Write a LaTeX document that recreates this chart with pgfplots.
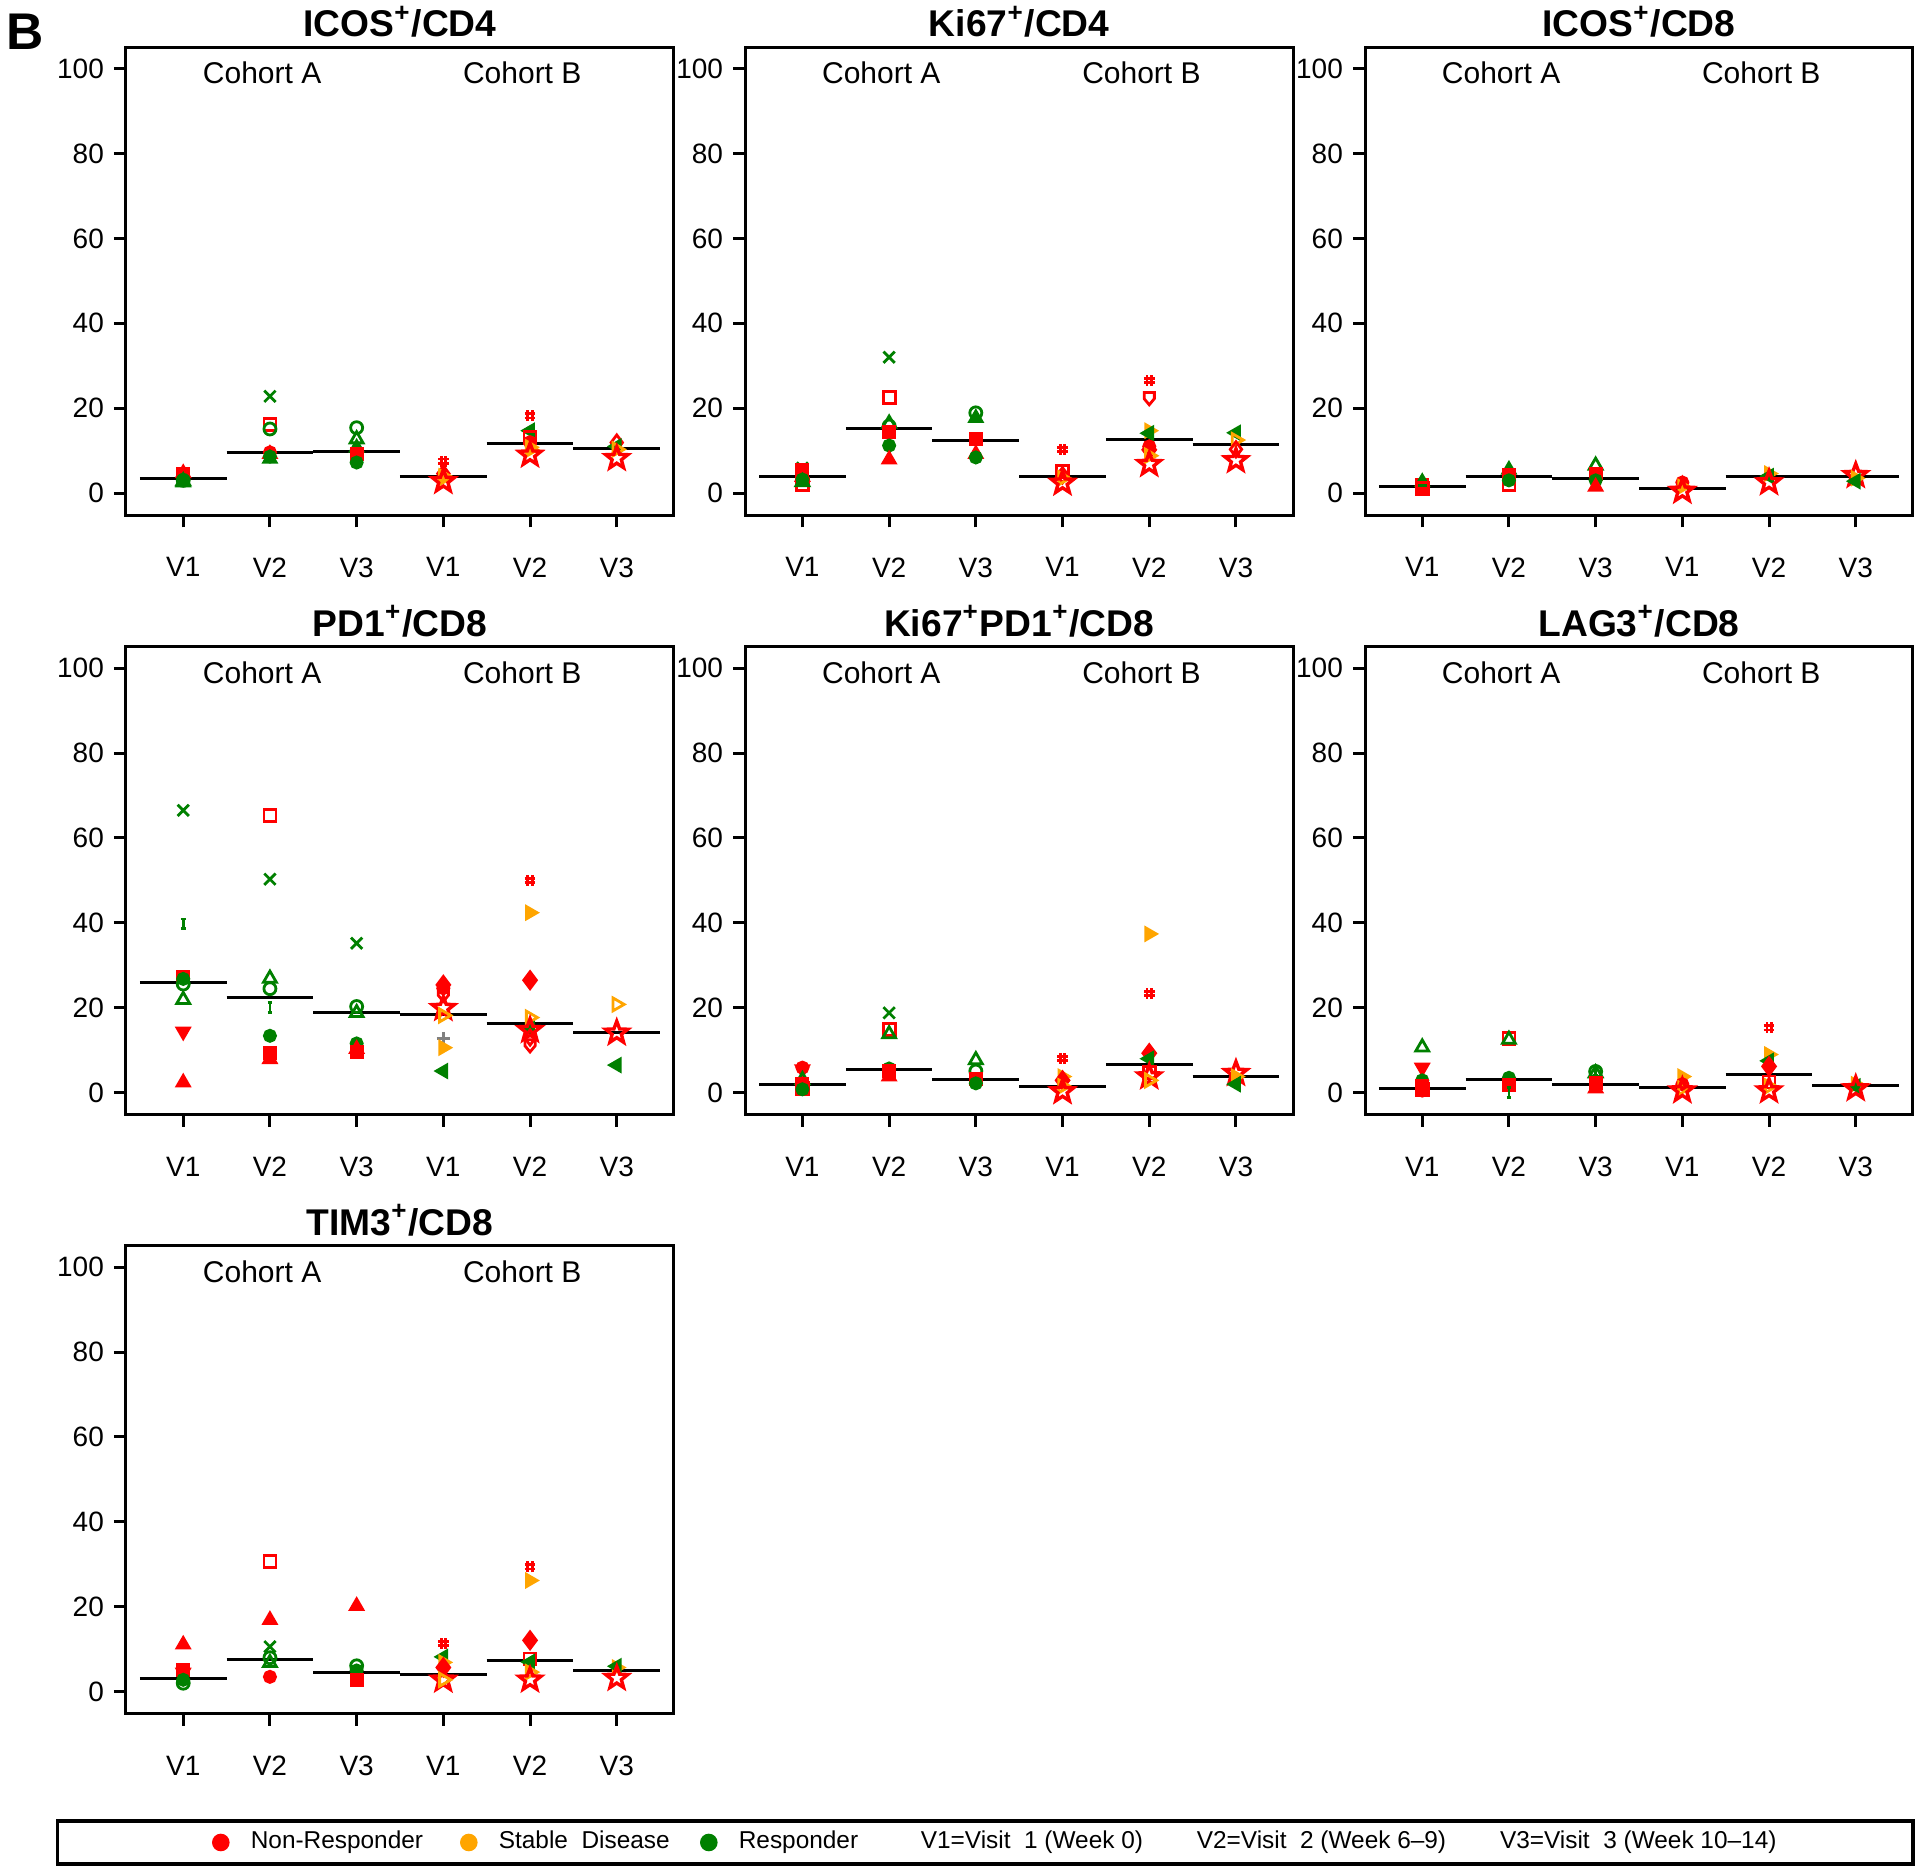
\documentclass[border=0pt]{standalone}
\usepackage{fontspec}
\setmainfont{Liberation Sans}
\usepackage{pgfplots}
\pgfplotsset{compat=1.18}
\usetikzlibrary{plotmarks}

\definecolor{nr}{RGB}{255,0,0}
\definecolor{sd}{RGB}{255,165,0}
\definecolor{rs}{RGB}{0,128,0}

% extra marker shapes used by the patient symbols
\pgfdeclareplotmark{rtri*}{%
  \pgfpathmoveto{\pgfqpoint{\pgfplotmarksize}{0pt}}%
  \pgfpathlineto{\pgfqpoint{-0.5\pgfplotmarksize}{0.866\pgfplotmarksize}}%
  \pgfpathlineto{\pgfqpoint{-0.5\pgfplotmarksize}{-0.866\pgfplotmarksize}}%
  \pgfpathclose\pgfusepathqfillstroke}
\pgfdeclareplotmark{rtri}{%
  \pgfpathmoveto{\pgfqpoint{\pgfplotmarksize}{0pt}}%
  \pgfpathlineto{\pgfqpoint{-0.5\pgfplotmarksize}{0.866\pgfplotmarksize}}%
  \pgfpathlineto{\pgfqpoint{-0.5\pgfplotmarksize}{-0.866\pgfplotmarksize}}%
  \pgfpathclose\pgfusepathqstroke}
\pgfdeclareplotmark{ltri*}{%
  \pgfpathmoveto{\pgfqpoint{-\pgfplotmarksize}{0pt}}%
  \pgfpathlineto{\pgfqpoint{0.5\pgfplotmarksize}{0.866\pgfplotmarksize}}%
  \pgfpathlineto{\pgfqpoint{0.5\pgfplotmarksize}{-0.866\pgfplotmarksize}}%
  \pgfpathclose\pgfusepathqfillstroke}
\pgfdeclareplotmark{dtri*}{%
  \pgfpathmoveto{\pgfqpoint{0pt}{-\pgfplotmarksize}}%
  \pgfpathlineto{\pgfqpoint{0.866\pgfplotmarksize}{0.5\pgfplotmarksize}}%
  \pgfpathlineto{\pgfqpoint{-0.866\pgfplotmarksize}{0.5\pgfplotmarksize}}%
  \pgfpathclose\pgfusepathqfillstroke}
\pgfdeclareplotmark{shield}{%
  \pgfpathmoveto{\pgfqpoint{-0.75\pgfplotmarksize}{0.8\pgfplotmarksize}}%
  \pgfpathlineto{\pgfqpoint{0.75\pgfplotmarksize}{0.8\pgfplotmarksize}}%
  \pgfpathlineto{\pgfqpoint{0.75\pgfplotmarksize}{-0.1\pgfplotmarksize}}%
  \pgfpathlineto{\pgfqpoint{0pt}{-\pgfplotmarksize}}%
  \pgfpathlineto{\pgfqpoint{-0.75\pgfplotmarksize}{-0.1\pgfplotmarksize}}%
  \pgfpathclose\pgfusepathqstroke}
\pgfdeclareplotmark{hash}{%
  \pgfpathmoveto{\pgfqpoint{-0.4\pgfplotmarksize}{-\pgfplotmarksize}}%
  \pgfpathlineto{\pgfqpoint{-0.4\pgfplotmarksize}{\pgfplotmarksize}}%
  \pgfpathmoveto{\pgfqpoint{0.4\pgfplotmarksize}{-\pgfplotmarksize}}%
  \pgfpathlineto{\pgfqpoint{0.4\pgfplotmarksize}{\pgfplotmarksize}}%
  \pgfpathmoveto{\pgfqpoint{-\pgfplotmarksize}{0.4\pgfplotmarksize}}%
  \pgfpathlineto{\pgfqpoint{\pgfplotmarksize}{0.4\pgfplotmarksize}}%
  \pgfpathmoveto{\pgfqpoint{-\pgfplotmarksize}{-0.4\pgfplotmarksize}}%
  \pgfpathlineto{\pgfqpoint{\pgfplotmarksize}{-0.4\pgfplotmarksize}}%
  \pgfusepathqstroke}
\pgfdeclareplotmark{ibeam}{%
  \pgfpathmoveto{\pgfqpoint{0pt}{-\pgfplotmarksize}}%
  \pgfpathlineto{\pgfqpoint{0pt}{\pgfplotmarksize}}%
  \pgfpathmoveto{\pgfqpoint{-0.5\pgfplotmarksize}{\pgfplotmarksize}}%
  \pgfpathlineto{\pgfqpoint{0.5\pgfplotmarksize}{\pgfplotmarksize}}%
  \pgfpathmoveto{\pgfqpoint{-0.5\pgfplotmarksize}{-\pgfplotmarksize}}%
  \pgfpathlineto{\pgfqpoint{0.5\pgfplotmarksize}{-\pgfplotmarksize}}%
  \pgfusepathqstroke}
\pgfdeclareplotmark{ostar}{%
  \pgfpathmoveto{\pgfpointpolar{90}{\pgfplotmarksize}}%
  \pgfpathlineto{\pgfpointpolar{126}{0.42\pgfplotmarksize}}%
  \pgfpathlineto{\pgfpointpolar{162}{\pgfplotmarksize}}%
  \pgfpathlineto{\pgfpointpolar{198}{0.42\pgfplotmarksize}}%
  \pgfpathlineto{\pgfpointpolar{234}{\pgfplotmarksize}}%
  \pgfpathlineto{\pgfpointpolar{270}{0.42\pgfplotmarksize}}%
  \pgfpathlineto{\pgfpointpolar{306}{\pgfplotmarksize}}%
  \pgfpathlineto{\pgfpointpolar{342}{0.42\pgfplotmarksize}}%
  \pgfpathlineto{\pgfpointpolar{18}{\pgfplotmarksize}}%
  \pgfpathlineto{\pgfpointpolar{54}{0.42\pgfplotmarksize}}%
  \pgfpathclose\pgfusepathqstroke}

\pgfplotsset{
  panel/.style={
    scale only axis, width=137pt, height=117pt, anchor=south west,
    xmin=0.34, xmax=6.66, ymin=-5.25, ymax=105,
    xtick={1,2,3,4,5,6}, xticklabels={V1,V2,V3,V1,V2,V3},
    ytick={0,20,40,60,80,100},
    tick align=outside, xtick pos=bottom, ytick pos=left,
    major tick length=3pt,
    tick style={black, line width=0.75pt},
    axis line style={line width=0.75pt},
    ticklabel style={font=\fontsize{7}{8}\selectfont},
    xticklabel style={yshift=-4pt},
    yticklabel style={xshift=1pt},
    /pgf/number format/assume math mode=true,
    every axis title shift=0pt,
    title style={font=\bfseries\fontsize{9.3}{11}\selectfont, at={(0.5,1)}, anchor=base,
      inner sep=0pt, yshift=2.7pt},
    clip=false,
    after end axis/.code={
      \node[font=\fontsize{7.5}{9}\selectfont] at (axis cs:1.91,98.9) {Cohort A};
      \node[font=\fontsize{7.5}{9}\selectfont] at (axis cs:4.91,98.9) {Cohort B};
    },
  },
  med/.style={black, line width=0.75pt, mark=none, unbounded coords=jump, forget plot},
  pts/.style={scatter, only marks, scatter src=explicit symbolic, forget plot,
    line width=0.7pt, mark size=1.5pt,
    scatter/classes={
      rT={mark=triangle*, nr, mark size=1.75pt},
      rS={mark=square*, nr, mark size=1.4pt},
      rSo={mark=square, nr, mark size=1.5pt},
      rC={mark=*, nr, mark size=1.4pt},
      rV={mark=dtri*, nr, mark size=1.75pt},
      rD={mark=diamond*, nr, mark size=2.1pt},
      rDo={mark=diamond, nr, mark size=1.9pt},
      rH={mark=hash, nr, mark size=1.35pt},
      rP={mark=shield, nr, mark size=1.7pt},
      rX={mark=ostar, nr, mark size=2.9pt, line width=0.85pt},
      oR={mark=rtri*, sd, mark size=1.75pt},
      oRo={mark=rtri, sd, mark size=1.85pt},
      gX={mark=x, rs, mark size=2.0pt},
      gCo={mark=o, rs, mark size=1.5pt},
      gTo={mark=triangle, rs, mark size=1.85pt},
      gC={mark=*, rs, mark size=1.4pt},
      gT={mark=triangle*, rs, mark size=1.75pt},
      gI={mark=ibeam, rs, mark size=1.2pt},
      gL={mark=ltri*, rs, mark size=1.75pt},
      gy={mark=+, gray, mark size=1.7pt}}},
}

\begin{document}
\begin{tikzpicture}
\useasboundingbox (0,0) rectangle (480pt,467.75pt);
\node[font=\bfseries\fontsize{12.9}{15}\selectfont, inner sep=0pt] at (6.3pt,459.9pt) {B};

% ---- ICOS+/CD4
\begin{axis}[panel, at={(31.5pt,338.9pt)}, title={ICOS\textsuperscript{+}/CD4}]
\addplot[pts] table[meta=c] {
x y c
1 4.4 rS
1 4.7 rT
1 3.2 rC
1 2.5 gT
1 3.0 gCo
1 2.8 gTo
2 22.8 gX
2 16.2 rSo
2 15.1 gCo
2 9.6 rC
2 9.2 rT
2 8.6 gC
2 8.1 gT
3 15.4 gCo
3 12.7 gTo
3 10.7 gT
3 9.2 rS
3 7.2 gC
4 7.5 rH
4 4.6 rDo
4 4.0 oR
4 3.5 oRo
4 2.8 rX
5 18.2 rH
5 14.7 gL
5 13.1 rSo
5 12.0 rC
5 10.8 oR
5 10.2 oRo
5 9.0 rX
6 11.9 rDo
6 11.0 gL
6 10.3 oRo
6 8.2 rX
};
\addplot[med] coordinates {(0.5,3.5) (1.5,3.5) (1.5,nan) (1.5,9.6) (2.5,9.6) (2.5,nan) (2.5,9.8) (3.5,9.8) (3.5,nan) (3.5,3.9) (4.5,3.9) (4.5,nan) (4.5,11.6) (5.5,11.6) (5.5,nan) (5.5,10.6) (6.5,10.6)};
\end{axis}

% ---- Ki67+/CD4
\begin{axis}[panel, at={(186.3pt,338.9pt)}, title={Ki67\textsuperscript{+}/CD4}]
\addplot[pts] table[meta=c] {
x y c
1 5.9 gX
1 5.5 rS
1 3.8 rT
1 2.0 rSo
1 2.6 gTo
1 3.2 gC
2 32.0 gX
2 22.5 rSo
2 16.4 gTo
2 15.8 gCo
2 14.5 rS
2 11.2 gC
2 9.2 gI
2 7.9 rT
3 18.9 gCo
3 17.7 gT
3 12.7 rS
3 9.2 rT
3 8.4 gC
4 10.3 rH
4 5.1 rSo
4 4.2 rDo
4 3.5 oRo
4 2.4 rX
5 26.5 rH
5 22.4 rP
5 14.7 oR
5 14.1 gL
5 11.0 rC
5 10.2 rD
5 8.8 oRo
5 6.8 rX
6 14.2 gL
6 12.5 oRo
6 10.3 rDo
6 7.7 rX
};
\addplot[med] coordinates {(0.5,3.8) (1.5,3.8) (1.5,nan) (1.5,15.1) (2.5,15.1) (2.5,nan) (2.5,12.5) (3.5,12.5) (3.5,nan) (3.5,4.0) (4.5,4.0) (4.5,nan) (4.5,12.6) (5.5,12.6) (5.5,nan) (5.5,11.4) (6.5,11.4)};
\end{axis}

% ---- ICOS+/CD8
\begin{axis}[panel, at={(341.25pt,338.9pt)}, title={ICOS\textsuperscript{+}/CD8}]
\addplot[pts] table[meta=c] {
x y c
1 2.0 rS
1 1.2 rC
1 2.6 gT
1 1.0 rSo
2 5.5 gT
2 4.2 rS
2 2.0 rSo
2 3.0 gC
3 6.5 gTo
3 4.6 rS
3 3.0 gC
3 1.5 rT
4 2.5 rC
4 1.5 oR
4 0.5 rX
5 4.6 oR
5 4.0 gL
5 2.5 rX
6 4.2 rX
6 3.5 oR
6 2.8 gL
};
\addplot[med] coordinates {(0.5,1.5) (1.5,1.5) (1.5,nan) (1.5,3.8) (2.5,3.8) (2.5,nan) (2.5,3.5) (3.5,3.5) (3.5,nan) (3.5,1.1) (4.5,1.1) (4.5,nan) (4.5,3.9) (5.5,3.9) (5.5,nan) (5.5,3.9) (6.5,3.9)};
\end{axis}

% ---- PD1+/CD8
\begin{axis}[panel, at={(31.5pt,189pt)}, title={PD1\textsuperscript{+}/CD8}]
\addplot[pts] table[meta=c] {
x y c
1 66.5 gX
1 39.8 gI
1 27.3 rS
1 26.8 gC
1 25.6 gCo
1 21.9 gTo
1 14.4 rV
1 2.4 rT
2 65.3 rSo
2 50.3 gX
2 26.9 gTo
2 24.5 gCo
2 20.1 gI
2 13.4 gC
2 9.3 rS
2 7.9 rT
3 35.2 gX
3 20.3 gCo
3 18.8 gTo
3 11.6 gC
3 10.3 rT
3 9.7 rS
4 25.4 rD
4 24.6 rC
4 23.1 rP
4 19.9 rX
4 18.2 oRo
4 12.7 gy
4 10.6 oR
4 5.1 gL
5 50.0 rH
5 42.4 oR
5 26.5 rD
5 17.7 oRo
5 15.0 gL
5 14.7 rX
5 13.0 rDo
5 11.2 rP
6 20.8 oRo
6 14.1 rX
6 6.5 gL
};
\addplot[med] coordinates {(0.5,25.9) (1.5,25.9) (1.5,nan) (1.5,22.4) (2.5,22.4) (2.5,nan) (2.5,18.9) (3.5,18.9) (3.5,nan) (3.5,18.4) (4.5,18.4) (4.5,nan) (4.5,16.4) (5.5,16.4) (5.5,nan) (5.5,14.1) (6.5,14.1)};
\end{axis}

% ---- Ki67+PD1+/CD8
\begin{axis}[panel, at={(186.3pt,189pt)}, title={Ki67\textsuperscript{+}PD1\textsuperscript{+}/CD8}]
\addplot[pts] table[meta=c] {
x y c
1 5.9 rC
1 5.5 rV
1 3.0 gTo
1 2.0 rS
1 1.0 rSo
1 0.8 gC
2 18.8 gX
2 14.9 rSo
2 13.8 gTo
2 5.7 gC
2 5.0 rS
2 3.8 rT
3 7.7 gTo
3 5.1 gCo
3 3.3 rS
3 2.2 gC
4 8.1 rH
4 3.8 oR
4 2.9 rD
4 1.5 oRo
4 0.3 rX
5 37.4 oR
5 23.4 rH
5 9.3 rD
5 8.0 gL
5 4.8 rSo
5 3.8 rX
5 2.9 oRo
6 4.6 rX
6 3.8 oR
6 2.0 gL
};
\addplot[med] coordinates {(0.5,2.0) (1.5,2.0) (1.5,nan) (1.5,5.5) (2.5,5.5) (2.5,nan) (2.5,3.2) (3.5,3.2) (3.5,nan) (3.5,1.4) (4.5,1.4) (4.5,nan) (4.5,6.6) (5.5,6.6) (5.5,nan) (5.5,3.8) (6.5,3.8)};
\end{axis}

% ---- LAG3+/CD8
\begin{axis}[panel, at={(341.25pt,189pt)}, title={LAG3\textsuperscript{+}/CD8}]
\addplot[pts] table[meta=c] {
x y c
1 10.7 gTo
1 5.9 rV
1 2.9 gC
1 1.5 rS
1 0.8 rSo
1 0.5 rC
2 12.8 rSo
2 12.5 gTo
2 3.5 gC
2 1.8 rS
2 0.0 gI
3 5.1 gI
3 5.0 gCo
3 4.6 gTo
3 2.4 rS
3 1.0 rT
4 3.8 oR
4 2.0 rC
4 1.0 oRo
4 0.5 rX
5 15.3 rH
5 9.0 oR
5 7.5 gL
5 6.2 rD
5 2.5 rSo
5 1.5 oRo
5 0.5 rX
6 2.0 oR
6 1.5 gL
6 1.0 rX
};
\addplot[med] coordinates {(0.5,1.1) (1.5,1.1) (1.5,nan) (1.5,3.1) (2.5,3.1) (2.5,nan) (2.5,2.0) (3.5,2.0) (3.5,nan) (3.5,1.3) (4.5,1.3) (4.5,nan) (4.5,4.4) (5.5,4.4) (5.5,nan) (5.5,1.7) (6.5,1.7)};
\end{axis}

% ---- TIM3+/CD8, carries the legend
\begin{axis}[panel, at={(31.5pt,39.25pt)}, title={TIM3\textsuperscript{+}/CD8},
  legend columns=6,
  legend image code/.code={\draw[#1, mark size=2pt] plot coordinates {(0pt,0pt)};},
  legend style={at={(0.157,-0.2746)}, anchor=west, draw=none, fill=none, inner sep=0pt,
    font=\fontsize{6.1}{7}\selectfont,
    /tikz/every odd column/.append style={column sep=3.5pt}},
  legend cell align=left]
\addplot[pts] table[meta=c] {
x y c
1 11.1 rT
1 5.2 rS
1 4.5 rV
1 2.8 gC
1 2.0 gCo
2 30.6 rSo
2 16.9 rT
2 10.6 gX
2 8.0 gCo
2 6.8 gTo
2 3.5 rC
3 20.2 rT
3 6.1 gCo
3 5.0 gC
3 2.8 rS
4 11.3 rH
4 8.2 gL
4 6.9 oR
4 5.7 rD
4 2.8 rX
4 2.8 oRo
5 29.4 rH
5 26.2 oR
5 12.1 rD
5 7.7 rSo
5 7.0 gL
5 4.6 oRo
5 2.8 rX
6 5.7 oR
6 6.0 gL
6 3.2 rX
};
\addplot[med] coordinates {(0.5,3.1) (1.5,3.1) (1.5,nan) (1.5,7.6) (2.5,7.6) (2.5,nan) (2.5,4.6) (3.5,4.6) (3.5,nan) (3.5,4.0) (4.5,4.0) (4.5,nan) (4.5,7.4) (5.5,7.4) (5.5,nan) (5.5,5.0) (6.5,5.0)};
\addlegendimage{only marks, mark=*, nr}
\addlegendentry{\makebox[50.5pt][l]{Non-Responder}}
\addlegendimage{only marks, mark=*, sd}
\addlegendentry{\makebox[48.5pt][l]{Stable\ \ Disease}}
\addlegendimage{only marks, mark=*, rs}
\addlegendentry{\makebox[38pt][l]{Responder}}
\addlegendimage{empty legend}
\addlegendentry{\makebox[61.5pt][l]{V1=Visit\ \ 1 (Week 0)}}
\addlegendimage{empty legend}
\addlegendentry{\makebox[68.3pt][l]{V2=Visit\ \ 2 (Week 6--9)}}
\addlegendimage{empty legend}
\addlegendentry{V3=Visit\ \ 3 (Week 10--14)}
\end{axis}

\draw[line width=0.8pt] (14.4pt,1.75pt) rectangle (478.25pt,12.5pt);
\end{tikzpicture}
\end{document}
